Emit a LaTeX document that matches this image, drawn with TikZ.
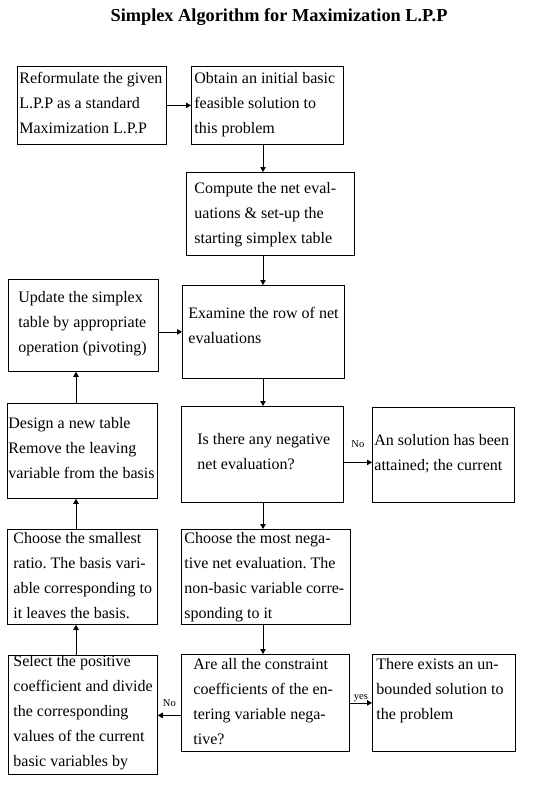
\documentclass[tikz,border=0pt]{standalone}
\usepackage{fontspec}
\setmainfont{Liberation Serif}
\usetikzlibrary{arrows.meta}
\newcommand{\cell}[5]{\parbox[t][#2][t]{#1}{\raggedright\frenchspacing\leftskip=#3\relax\rule{0pt}{#4}#5}}
\tikzset{
  blk/.style={draw, line width=0.8pt, inner sep=0pt, anchor=north west, font=\fontsize{16}{25}\selectfont},
  arr/.style={line width=0.8pt, -{Triangle[length=5pt,width=5.5pt]}},
  lbl/.style={font=\fontsize{10.5}{12}\selectfont, inner sep=0pt, anchor=base}
}
\begin{document}
\begin{tikzpicture}[x=1pt,y=-1pt]
\useasboundingbox (0,0) rectangle (554,787);
\node[font=\fontsize{18.3}{22}\selectfont\bfseries, anchor=base] (title) at (279,21) {Simplex Algorithm for Maximization L.P.P};
\coordinate (mcol) at (263,0);
\coordinate (lcol) at (76,0);
\node[blk] (reform) at (17,66) {\cell{149pt}{78pt}{2pt}{17pt}{Reformulate the given\\L.P.P as a standard\\Maximization L.P.P}};
\node[blk] (obtain) at (191,66) {\cell{152pt}{78pt}{3pt}{17pt}{Obtain an initial basic\\feasible solution to\\this problem}};
\node[blk] (compute) at (186,172) {\cell{168pt}{83pt}{8pt}{20.7pt}{Compute the net eval-\\uations \& set-up the\\starting simplex table}};
\node[blk] (update) at (8,279) {\cell{150pt}{92pt}{10pt}{22.7pt}{Update the simplex\\table by appropriate\\operation (pivoting)}};
\node[blk] (examine) at (182,285) {\cell{162pt}{93pt}{6pt}{33pt}{Examine the row of net\\evaluations}};
\node[blk] (query) at (181,406) {\cell{162pt}{96pt}{16pt}{38pt}{Is there any negative\\net evaluation?}};
\node[blk] (done) at (372,407) {\cell{142pt}{95pt}{2pt}{38pt}{An solution has been\\attained; the current}};
\node[blk] (design) at (7,403) {\cell{150pt}{95pt}{1pt}{24.7pt}{Design a new table\\Remove the leaving\\variable from the basis}};
\node[blk] (ratio) at (7,529) {\cell{150pt}{95pt}{6pt}{13.7pt}{Choose the smallest\\ratio. The basis vari-\\able corresponding to\\it leaves the basis.}};
\node[blk] (pick) at (181,529) {\cell{169pt}{95pt}{3pt}{13.7pt}{Choose the most nega-\\tive net evaluation. The\\non-basic variable corre-\\sponding to it}};
\node[blk] (check) at (181,654) {\cell{168pt}{97pt}{12pt}{15pt}{Are all the constraint\\coefficients of the en-\\tering variable nega-\\tive?}};
\node[blk] (unbnd) at (372,654) {\cell{143pt}{97pt}{4pt}{15pt}{There exists an un-\\bounded solution to\\the problem}};
\node[blk] (select) at (8,655) {\cell{149pt}{119pt}{5pt}{10.7pt}{Select the positive\\coefficient and divide\\the corresponding\\values of the current\\basic variables by}};
\draw[arr] (reform.east) -- (obtain.west);
\draw[arr] (obtain.south -| mcol) -- (compute.north -| mcol);
\draw[arr] (compute.south -| mcol) -- (examine.north -| mcol);
\draw[arr] (update.east |- examine.west) -- (examine.west);
\draw[arr] (examine.south -| mcol) -- (query.north -| mcol);
\draw[arr] ([yshift=-8pt]query.east) -- node[lbl, yshift=15.3pt] {No} ([yshift=-8pt]query.east -| done.west);
\draw[arr] (query.south -| mcol) -- (pick.north -| mcol);
\draw[arr] (pick.south -| mcol) -- (check.north -| mcol);
\draw[arr] (check.east) -- node[lbl, yshift=3pt] {yes} (check.east -| unbnd.west);
\draw[arr] ([yshift=-12.5pt]check.west) -- node[lbl, yshift=9pt] {No} ([yshift=-12.5pt]check.west -| select.east);
\draw[arr] (select.north -| lcol) -- (ratio.south -| lcol);
\draw[arr] (ratio.north -| lcol) -- (design.south -| lcol);
\draw[arr] (design.north -| lcol) -- (update.south -| lcol);
\end{tikzpicture}
\end{document}
